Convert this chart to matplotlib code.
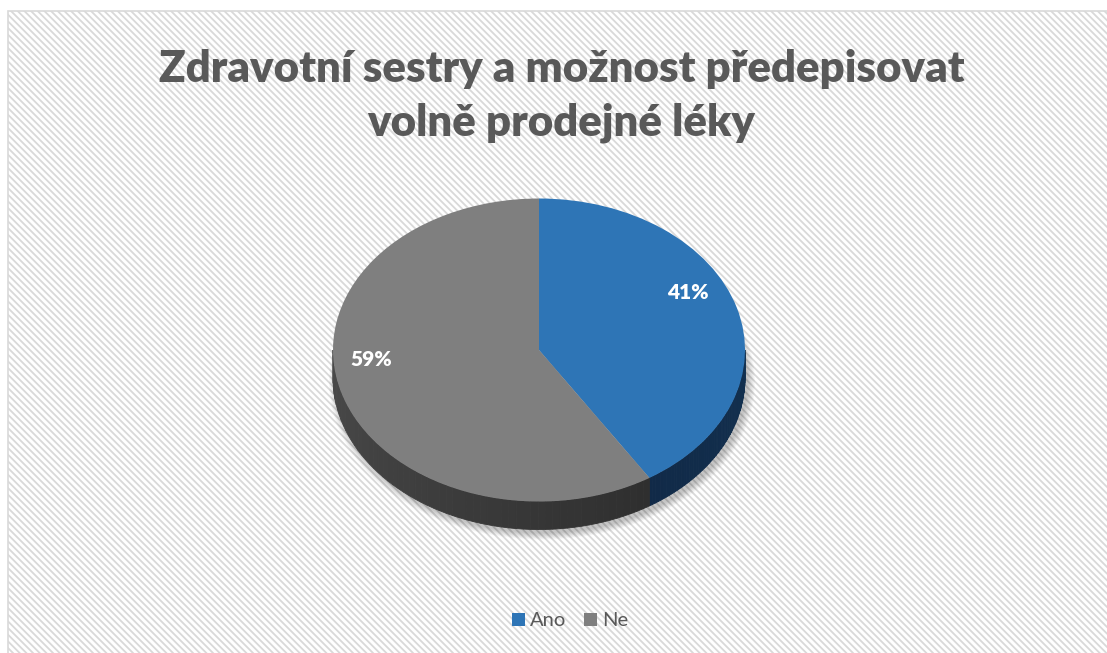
import numpy as np
import matplotlib.pyplot as plt
from matplotlib.patches import Rectangle, Polygon, Ellipse
from matplotlib.transforms import Affine2D
from matplotlib.colors import to_rgb

# data
categories = ['Ano', 'Ne']
values = [41, 59]
top_colors = ['#2e75b6', '#7f7f7f']
# side colours: (left end, right end) of the gradient
side_colors = [('#112a48', '#12304f'), ('#4a4a4a', '#2f2f2f')]
title = 'Zdravotní sestry a možnost předepisovat\nvolně prodejné léky'

plt.rcParams['font.family'] = ['Lato', 'DejaVu Sans']

W, H = 1107, 653
fig = plt.figure(figsize=(W / 100, H / 100), dpi=100)
ax = fig.add_axes([0, 0, 1, 1])

# pie geometry (pixels, y measured up from bottom)
cx, cy = 539, H - 350
rx, ry = 206, 151.5
depth = 28

# background with light diagonal stripes
plt.rcParams['hatch.color'] = '#f4f4f4'
plt.rcParams['hatch.linewidth'] = 1.3
ax.add_patch(Rectangle((8, -5), W, H - 11 + 5, facecolor='white',
                       edgecolor='#d9d9d9', lw=1.2, hatch='\\\\\\\\\\', zorder=0))

# soft shadow
for i in range(10):
    ax.add_patch(Ellipse((cx + 3, cy - depth - 4), 2 * rx + 14 - i * 1.6,
                         2 * ry + 12 - i * 1.4, facecolor='black',
                         edgecolor='none', alpha=0.025, zorder=1))

tr = Affine2D().scale(rx, ry).translate(cx, cy) + ax.transData
wedges, texts, autotexts = ax.pie(values, colors=top_colors, startangle=90,
                                  counterclock=False, autopct='%.0f%%',
                                  pctdistance=0.8,
                                  textprops=dict(color='white', fontsize=15,
                                                 fontweight='heavy'))
for w in wedges:
    w.set_transform(tr)
    w.set_zorder(5)
    w.set_edgecolor('none')
label_tr = Affine2D().scale(rx, ry).translate(cx - 9, cy + 24) + ax.transData
for t in autotexts:
    t.set_transform(label_tr)
    t.set_zorder(6)

# 3D side of each slice (only the front half is visible)
for w, (c0, c1) in zip(wedges, side_colors):
    for shift in (-360, 0, 360):
        a0 = max(w.theta1 + shift, -180)
        a1 = min(w.theta2 + shift, 0)
        if a1 <= a0:
            continue
        n = 60
        edges = np.linspace(a0, a1, n + 1)
        for k in range(n):
            th = np.radians(np.linspace(edges[k], edges[k + 1], 4))
            xs = cx + rx * np.cos(th)
            ys = cy + ry * np.sin(th)
            pts = np.column_stack([np.r_[xs, xs[::-1]],
                                   np.r_[ys, ys[::-1] - depth]])
            f = k / (n - 1)
            col = tuple((1 - f) * np.array(to_rgb(c0)) + f * np.array(to_rgb(c1)))
            ax.add_patch(Polygon(pts, closed=True, facecolor=col,
                                 edgecolor=col, lw=0.6, zorder=4))

ax.set_xlim(0, W)
ax.set_ylim(0, H)
ax.set_aspect('auto')
ax.axis('off')

ax.text(W / 2 + 8, H - 96, title, ha='center', va='center', fontsize=31.5,
        fontweight='heavy', color='#595959', linespacing=1.4)

leg = ax.legend(wedges, categories, loc='center', bbox_to_anchor=(570 / W, 1 - 621 / H),
                ncol=2, frameon=False, fontsize=14.5, handlelength=0.62,
                handleheight=0.62, handletextpad=0.25, columnspacing=0.9)
for t in leg.get_texts():
    t.set_color('#595959')

fig.savefig('out.png', dpi=100)
